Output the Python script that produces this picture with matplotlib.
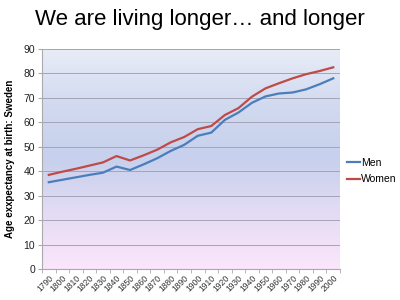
import matplotlib
matplotlib.use("Agg")
import matplotlib.pyplot as plt
import numpy as np
from matplotlib.colors import LinearSegmentedColormap

years = [str(y) for y in range(1790, 2001, 10)]
men = [35.5, 36.5, 37.5, 38.5, 39.4, 41.9, 40.5, 42.8, 45.3, 48.3, 50.8, 54.5,
       55.8, 61.0, 64.0, 68.0, 70.6, 71.8, 72.2, 73.5, 75.6, 78.0]
women = [38.5, 39.8, 41.0, 42.3, 43.6, 46.2, 44.4, 46.5, 48.8, 51.8, 54.0, 57.2,
         58.5, 63.0, 65.8, 70.5, 73.9, 76.0, 78.0, 79.7, 81.0, 82.5]
yticks = list(range(0, 91, 10))

plt.rcParams['font.family'] = ['Liberation Sans', 'DejaVu Sans']

fig = plt.figure(figsize=(4, 3), dpi=100)
fig.patch.set_facecolor('white')
ax = fig.add_axes([42/400, 1 - 269/300, 298/400, 220/300])

# gradient background
cmap = LinearSegmentedColormap.from_list('bg', [
    (0.0, '#fbe6fb'), (0.25, '#e4dcf4'), (0.5, '#c7d0ec'),
    (0.75, '#d2daf0'), (1.0, '#e8ecf7')])
grad = np.linspace(0, 1, 256).reshape(-1, 1)
ax.imshow(grad, aspect='auto', cmap=cmap, origin='lower',
          extent=(-0.5, len(years) - 0.5, 0, 90), zorder=0)

x = np.arange(len(years))
ax.plot(x, men, color='#4a7ebb', lw=1.6, label='Men', zorder=3)
ax.plot(x, women, color='#be4b48', lw=1.6, label='Women', zorder=3)

ax.set_xlim(-0.5, len(years) - 0.5)
ax.set_ylim(0, 90)
ax.set_yticks(yticks)
ax.set_yticklabels([str(v) for v in yticks], fontsize=7.5, color='#222222')
ax.set_xticks(x)
ax.set_xticklabels(years, rotation=45, ha='right', rotation_mode='anchor',
                   fontsize=6.2, color='#333333')
ax.set_xticks(np.arange(-0.5, len(years), 1), minor=True)
ax.tick_params(axis='x', which='major', length=0, pad=3)
ax.tick_params(axis='x', which='minor', length=3, color='#aaaaaa')
ax.tick_params(axis='y', length=3, color='#aaaaaa', pad=2)
for yv in yticks[1:]:
    ax.axhline(yv, color='#a4a4b8', lw=0.7, zorder=1)
for s in ['top', 'right']:
    ax.spines[s].set_visible(False)
ax.spines['left'].set_color('#aaaaaa')
ax.spines['bottom'].set_color('#aaaaaa')

ax.set_ylabel('Age exxpectancy at birth: Sweden', fontsize=7, fontweight='bold',
              labelpad=6)

ax.legend(loc='center left', bbox_to_anchor=(1.01, 0.445), frameon=False,
          fontsize=7.5, handlelength=1.2, handletextpad=0.1, labelspacing=0.6,
          borderaxespad=0)

fig.text(0.5, 1 - 20/300, 'We are living longer\u2026 and longer', ha='center',
         va='center', fontsize=16, color='black')

fig.savefig('out.png', dpi=100)
